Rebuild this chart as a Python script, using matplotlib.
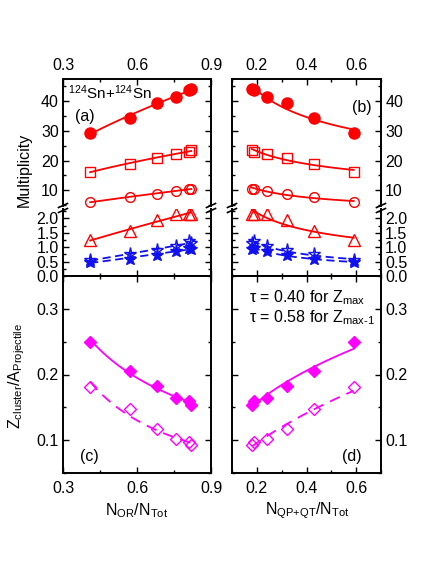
import numpy as np
import matplotlib
matplotlib.use("Agg")
import matplotlib.pyplot as plt
from matplotlib.lines import Line2D
from matplotlib.ticker import MultipleLocator

plt.rcParams['font.family'] = ['Liberation Sans', 'DejaVu Sans']
plt.rcParams['mathtext.fontset'] = 'custom'
plt.rcParams['mathtext.rm'] = 'Liberation Sans'
plt.rcParams['mathtext.it'] = 'Liberation Sans:italic'
plt.rcParams['mathtext.default'] = 'regular'
plt.rcParams['font.size'] = 11.5
plt.rcParams['axes.linewidth'] = 1.4

# x values (fraction of events)
x_or = [0.41, 0.57, 0.68, 0.76, 0.81, 0.82]
x_qp = [0.59, 0.43, 0.32, 0.24, 0.19, 0.18]

# multiplicities, same order as the x lists
mult_all = [29.2, 34.4, 39.3, 41.5, 43.6, 44.0]
mult_sq = [16.2, 18.9, 21.0, 22.2, 22.9, 23.6]
mult_circ = [6.1, 7.6, 8.8, 9.8, 10.5, 10.6]
mult_tri = [1.25, 1.55, 1.93, 2.16, 2.16, 2.17]
mult_star_open = [0.55, 0.75, 0.9, 1.05, 1.2, 1.15]
mult_star_fill = [0.47, 0.6, 0.72, 0.86, 0.97, 0.95]

# Z_cluster / A_projectile
z_max = [0.250, 0.205, 0.183, 0.164, 0.159, 0.154]
z_max1 = [0.181, 0.148, 0.117, 0.102, 0.097, 0.092]

RED = '#ff0000'
BLUE = '#1010f0'
MAG = '#ff00ff'

W, H = 436, 564


def box(x0, y0, x1, y1):
    # pixel box (y going down) -> figure fraction rect
    return [x0 / W, 1 - y1 / H, (x1 - x0) / W, (y1 - y0) / H]


def fpx(x, y):
    return x / W, 1 - y / H


def fit_line(ax, x, y, color, dashes=None):
    # power law fit y = a * x^b
    b, a = np.polyfit(np.log(x), np.log(y), 1)
    xs = np.linspace(min(x), max(x), 100)
    line, = ax.plot(xs, np.exp(a) * xs ** b, color=color, lw=1.3)
    if dashes is not None:
        line.set_dashes(dashes)


def ticks(ax, **kw):
    ax.tick_params(which='both', direction='in', width=1.0, **kw)
    ax.tick_params(which='major', length=4)
    ax.tick_params(which='minor', length=2.5)


fmt1 = lambda v, p: f'{v:.1f}'

fig = plt.figure(figsize=(W / 100, H / 100), dpi=100)

cols = [(63, 211, x_or, (0.3, 0.9), 0.3, 0.15),
        (232, 381, x_qp, (0.1, 0.7), 0.2, 0.1)]

for ci, (xl, xr, xv, xlim, xmaj, xmin) in enumerate(cols):
    up = fig.add_axes(box(xl, 79, xr, 206.5))
    lo = fig.add_axes(box(xl, 209.5, xr, 276))
    bt = fig.add_axes(box(xl, 276, xr, 473))

    for ax in (up, lo, bt):
        ax.set_xlim(*xlim)
        ax.xaxis.set_major_locator(MultipleLocator(xmaj))
        ax.xaxis.set_minor_locator(MultipleLocator(xmin))

    # upper part of broken axis
    up.set_ylim(4.56, 47.4)
    up.yaxis.set_major_locator(MultipleLocator(10))
    up.yaxis.set_minor_locator(MultipleLocator(5))
    up.spines['bottom'].set_visible(False)
    ticks(up, top=True, bottom=False, labeltop=True, labelbottom=False,
          left=True, right=True, labelleft=(ci == 0), labelright=(ci == 1))
    up.tick_params(axis='x', pad=4)
    up.tick_params(axis='y', pad=3)
    up.xaxis.set_major_formatter(fmt1)

    up.plot(xv, mult_all, 'o', color=RED, ms=8)
    up.plot(xv, mult_sq, 's', mfc='none', mec=RED, mew=1.0, ms=6.5)
    up.plot(xv, mult_circ, 'o', mfc='none', mec=RED, mew=1.0, ms=7)
    for yv in (mult_all, mult_sq, mult_circ):
        fit_line(up, xv, yv, RED)

    # lower part of broken axis
    lo.set_ylim(0, 2.31)
    lo.yaxis.set_major_locator(MultipleLocator(0.5))
    lo.yaxis.set_minor_locator(MultipleLocator(0.25))
    lo.spines['top'].set_visible(False)
    ticks(lo, top=False, bottom=True, labeltop=False, labelbottom=False,
          left=True, right=True, labelleft=(ci == 0), labelright=(ci == 1))
    lo.tick_params(axis='y', pad=3)
    lo.yaxis.set_major_formatter(fmt1)

    lo.plot(xv, mult_tri, '^', mfc='none', mec=RED, mew=1.0, ms=9)
    fit_line(lo, xv, mult_tri, RED)
    lo.plot(xv, mult_star_open, '*', mfc='none', mec=BLUE, mew=1.0, ms=9.5)
    lo.plot(xv, mult_star_fill, '*', color=BLUE, ms=9.5)
    fit_line(lo, xv, mult_star_open, BLUE, dashes=(4.5, 2.5))
    fit_line(lo, xv, mult_star_fill, BLUE, dashes=(4.5, 2.5))

    # bottom panel
    bt.set_ylim(0.05, 0.35)
    bt.yaxis.set_major_locator(MultipleLocator(0.1))
    bt.yaxis.set_minor_locator(MultipleLocator(0.05))
    ticks(bt, top=True, bottom=True, labelbottom=True, labeltop=False,
          left=True, right=True, labelleft=(ci == 0), labelright=(ci == 1))
    bt.tick_params(axis='x', pad=6)
    bt.tick_params(axis='y', pad=3)
    bt.yaxis.set_major_formatter(fmt1)
    bt.xaxis.set_major_formatter(fmt1)

    bt.plot(xv, z_max, 'D', color=MAG, ms=6.5)
    bt.plot(xv, z_max1, 'D', mfc='none', mec=MAG, mew=1.0, ms=6)
    fit_line(bt, xv, z_max, MAG)
    fit_line(bt, xv, z_max1, MAG, dashes=(6, 4))

    # break marks on both vertical spines
    for sx in (xl, xr):
        for cy in (205.5, 210.5):
            x0, y0 = fpx(sx - 4.5, cy + 2)
            x1, y1 = fpx(sx + 4.5, cy - 2)
            fig.add_artist(Line2D([x0, x1], [y0, y1], color='black', lw=1.2))

# texts
fig.text(*fpx(24, 170), 'Multiplicity', rotation=90, ha='center', va='center')
fig.text(*fpx(17, 376), 'Z$_{cluster}$/A$_{Projectile}$', rotation=90,
         ha='center', va='center')
fig.text(*fpx(137, 511), 'N$_{OR}$/N$_{Tot}$', ha='center', va='center')
fig.text(*fpx(307, 511), 'N$_{\\text{QP+QT}}$/N$_{Tot}$', ha='center',
         va='center')
fig.text(*fpx(68, 93), '$^{124}$Sn+$^{124}$Sn', ha='left', va='center',
         fontsize=11)
fig.text(*fpx(85, 117), '(a)', ha='center', va='center')
fig.text(*fpx(362, 108), '(b)', ha='center', va='center')
fig.text(*fpx(89, 457), '(c)', ha='center', va='center')
fig.text(*fpx(352, 457), '(d)', ha='center', va='center')
fig.text(*fpx(249, 302.5), 'τ = 0.40 for Z$_{max}$', ha='left', va='baseline')
fig.text(*fpx(249, 322.5), 'τ = 0.58 for Z$_{\\text{max-1}}$', ha='left',
         va='baseline')

fig.savefig('out.png', dpi=100)
